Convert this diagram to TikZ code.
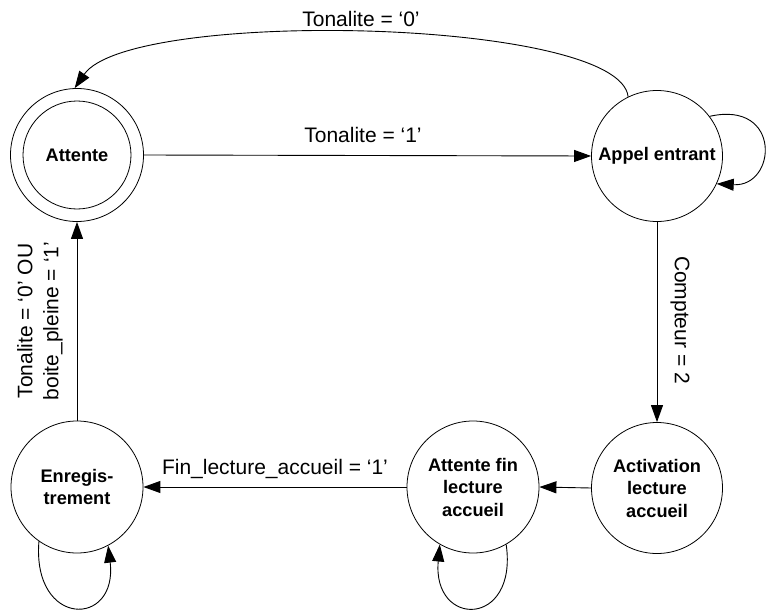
\documentclass[tikz,border=0pt]{standalone}
\usepackage{fontspec}
\setmainfont{Liberation Sans}
\usetikzlibrary{arrows.meta}
\begin{document}
\begin{tikzpicture}[x=1pt,y=-1pt,
  state/.style={circle,draw,line width=0.8pt,minimum size=132pt,inner sep=0pt,align=center,
    font=\fontsize{18.2}{22.5}\selectfont\bfseries},
  lbl/.style={font=\fontsize{21}{26}\selectfont,inner sep=0pt},
  tr/.style={-{Triangle[length=17pt,width=12pt]},line width=0.9pt}]
\useasboundingbox (0,0) rectangle (766,610);
\node[state,minimum size=133pt] (A) at (77,155) {Attente};
\node[circle,draw,line width=0.8pt,minimum size=108pt] (Ai) at (77,155) {};
\node[state,minimum size=131pt] (B) at (657,156) {Appel entrant};
\node[state,minimum size=131pt] (C) at (657,488) {Activation\\lecture\\accueil};
\node[state] (D) at (473,487) {Attente fin\\lecture\\accueil};
\node[state] (E) at (77,487) {Enregis-\\trement};
% edges
\draw[tr] (A.east) -- (B.west);
\node[lbl,anchor=base] (L1) at (363,142) {Tonalite = ‘1’};
\draw[tr] (B.116) .. controls (620,18) and (130,8) .. (A.92);
\node[lbl,anchor=base] (L0) at (361,27) {Tonalite = ‘0’};
\draw[tr] (B.south) -- (C.north);
\node[lbl,rotate=-90] (L2) at (680,320) {Compteur = 2};
\draw[tr] (C.west) -- (D.east);
\draw[tr] (D.west) -- (E.east);
\node[lbl,anchor=base] (L3) at (275,474) {Fin\_lecture\_accueil = ‘1’};
\draw[tr] (E.north) -- (A.south);
\node[lbl,rotate=90,align=center] (L4) at (40,321) {Tonalite = ‘0’ OU\\boite\_pleine = ‘1’};
% self loops
\draw[tr] (B.37) .. controls (782,100) and (777,187) .. (B.-25);
\draw[tr] (E.-125) .. controls (32,628) and (118,628) .. (E.-62);
\draw[tr] (D.-60) .. controls (518,628) and (432,628) .. (D.-120);
\end{tikzpicture}
\end{document}
